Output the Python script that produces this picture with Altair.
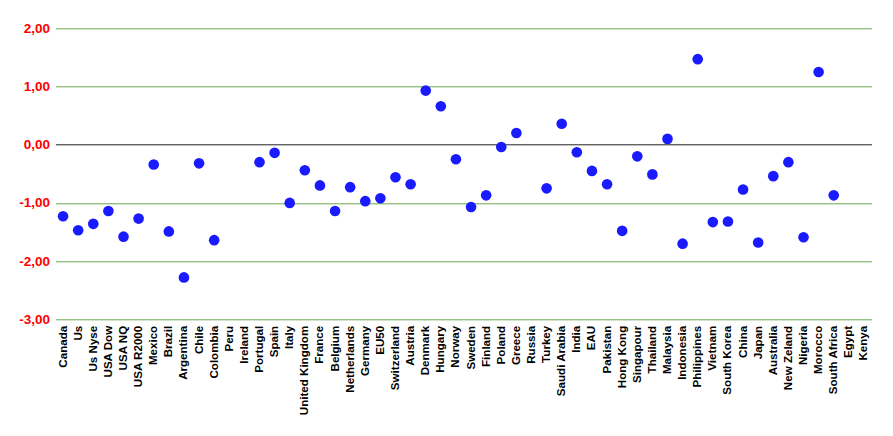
import altair as alt
import pandas as pd

countries = ["Canada", "Us", "Us Nyse", "USA Dow", "USA NQ", "USA R2000", "Mexico", "Brazil",
             "Argentina", "Chile", "Colombia", "Peru", "Ireland", "Portugal", "Spain", "Italy",
             "United Kingdom", "France", "Belgium", "Netherlands", "Germany", "EU50", "Switzerland",
             "Austria", "Denmark", "Hungary", "Norway", "Sweden", "Finland", "Poland", "Greece",
             "Russia", "Turkey", "Saudi Arabia", "India", "EAU", "Pakistan", "Hong Kong",
             "Singapour", "Thailand", "Malaysia", "Indonesia", "Philippines", "Vietnam",
             "South Korea", "China", "Japan", "Australia", "New Zeland", "Nigeria", "Morocco",
             "South Africa", "Egypt", "Kenya"]

values = [-1.23, -1.47, -1.36, -1.14, -1.58, -1.27, -0.34, -1.49,
          -2.28, -0.32, -1.64, None, None, -0.30, -0.14, -1.00,
          -0.44, -0.70, -1.14, -0.73, -0.97, -0.92, -0.56,
          -0.68, 0.93, 0.66, -0.25, -1.07, -0.87, -0.04, 0.20,
          None, -0.75, 0.36, -0.13, -0.45, -0.68, -1.48,
          -0.20, -0.51, 0.10, -1.70, 1.47, -1.33,
          -1.32, -0.77, -1.68, -0.54, -0.30, -1.59, 1.25,
          -0.87, None, None]

y_ticks = [-3, -2, -1, 0, 1, 2]

df = pd.DataFrame({"country": countries, "value": values})

label_expr = "(datum.value < 0 ? '-' : '') + replace(format(abs(datum.value), '.2f'), '.', ',')"

chart = alt.Chart(df).mark_circle(size=113, opacity=1, color="#1a1aff").encode(
    x=alt.X("country:N", sort=countries,
            scale=alt.Scale(domain=countries),
            axis=alt.Axis(title=None, labelAngle=-90, labelFont="Liberation Sans",
                          labelFontWeight="bold", labelFontSize=11.6, labelColor="#000000",
                          ticks=False, domain=False, grid=False, labelPadding=6,
                          labelOverlap=False, labelLimit=300)),
    y=alt.Y("value:Q",
            scale=alt.Scale(domain=[-3, 2], nice=False, zero=False),
            axis=alt.Axis(title=None, values=y_ticks, labelExpr=label_expr,
                          labelFont="Liberation Sans", labelFontWeight="bold",
                          labelFontSize=13.5, labelColor="#ff0000", ticks=False,
                          domain=False, labelPadding=6,
                          gridColor=alt.condition("datum.value === 0",
                                                  alt.value("#222222"),
                                                  alt.value("#6aa84f")),
                          gridWidth=1, gridOpacity=1)),
).properties(
    width=816, height=291,
    padding={"left": 47.5, "top": 20.3, "right": 10, "bottom": 100},
    autosize="none",
).configure_view(stroke=None)

chart.save("out.html", embed_options={"renderer": "svg", "actions": False})
